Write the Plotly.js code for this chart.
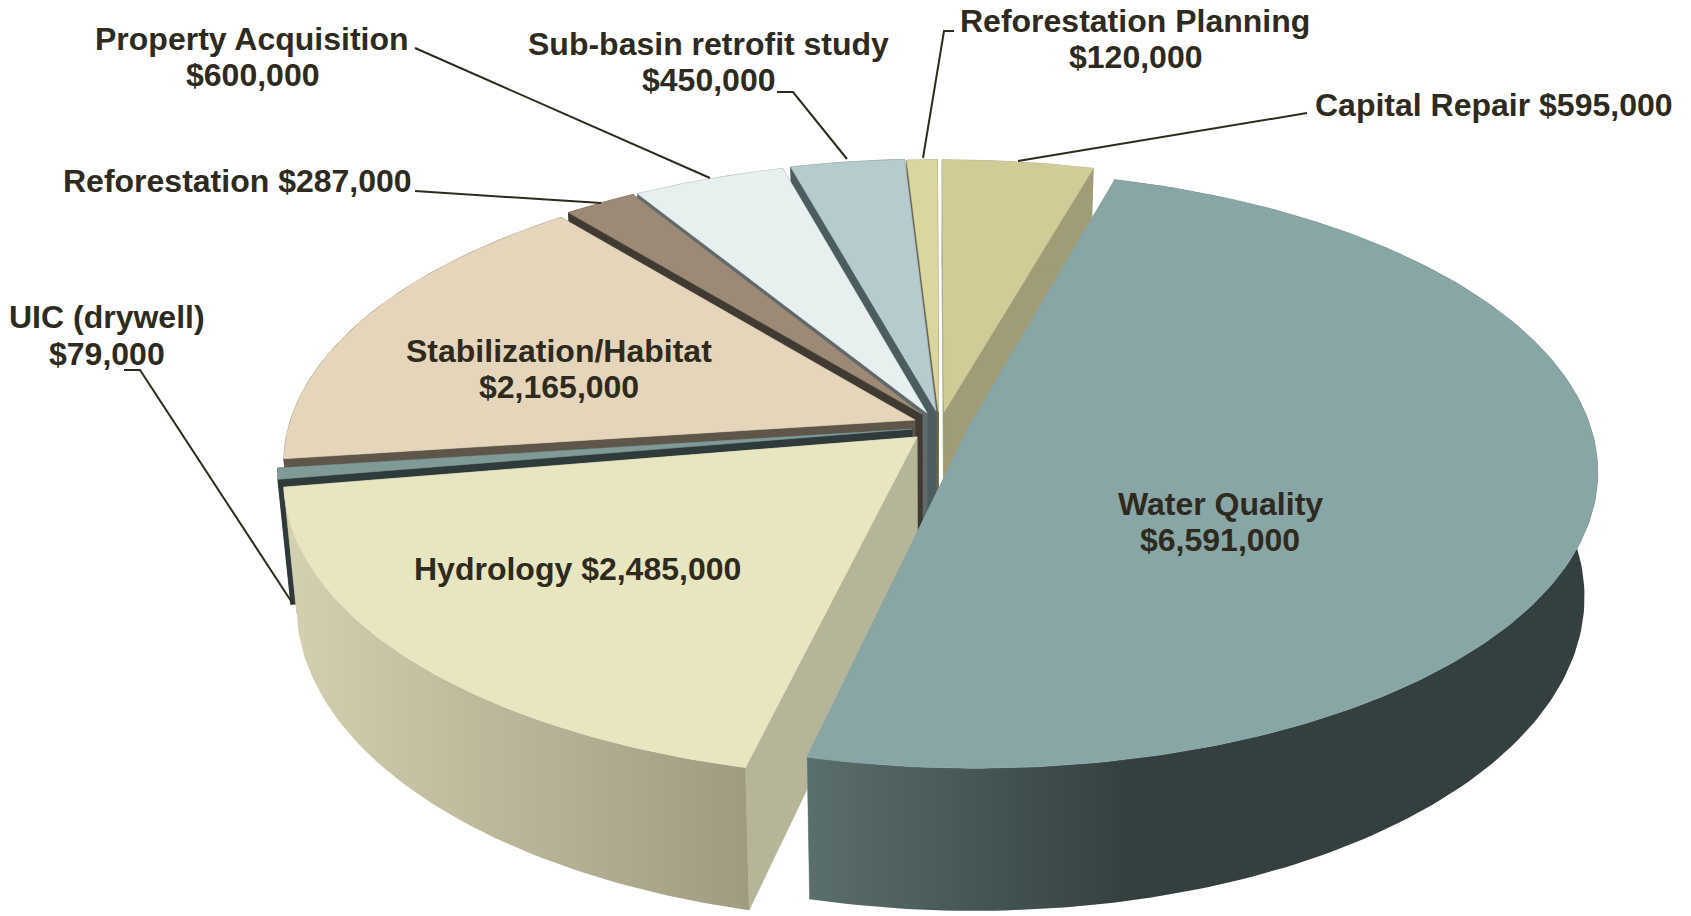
<!DOCTYPE html>
<html>
<head>
<meta charset="utf-8">
<script src="https://cdn.plot.ly/plotly-3.0.1.min.js"></script>
<style>html,body{margin:0;padding:0;background:#fff}#chart{width:1691px;height:916px}</style>
</head>
<body>
<div id="chart"></div>
<script>
// ---- data (clockwise from 12 o'clock) ----
const categories = ["Capital Repair","Water Quality","Hydrology","UIC (drywell)","Stabilization/Habitat","Reforestation","Property Acquisition","Sub-basin retrofit study","Reforestation Planning"];
const amounts = [595000,6591000,2485000,79000,2165000,287000,600000,450000,120000];

// ---- styles ----
const topColors  = ["#d1cb97","#88a6a6","#e8e6c0","#7f9a97","#e5d6bb","#9c8a76","#e7f0ef","#b6cbce","#dbd69f"];
const faceColors = ["#a09c76","#88a6a6","#b6b598","#2f3a3c","#5f5548","#3f3a32","#5f6a6c","#4c5d60","#6a6a4a"];
const rimStops   = {
  1:{stops:[[0,"#5a6e6c"],[1,"#33403f"]],start:810,stop:1130},
  2:{stops:[[0,"#d3d0b0"],[1,"#9e9b80"]],start:290,stop:750}
};
const rimColors  = ["#a09c76","#33403f","#9e9b80","#2f3a3c","#5f5548","#3f3a32","#5f6a6c","#4c5d60","#6a6a4a"];
// ---- explode geometry: where each slice's tip lands, and paint order (back to front) ----
const tipX = [944,969,917,912,915,922,927,936,938.5];
const tipY = [412,426.5,437,429,420,414,413,411,412];
const radiusX = [1,0.992,0.995,1,1,1,1,1,1];
const radiusY = [1,1,0.99,1,1,1,1,1,1];
const paintOrder = [0,8,7,6,5,4,3,2,1];

// ---- projection of the tilted disc ----
const CX=930, CY=425, R=626, B=292, K=0.144, DEPTH=122, SHRINK=0.98;
const gx=tipX.map(x=>0), gy=tipY.map(y=>{const d=y-CY;return d/(B+K*d);});
tipX.forEach((x,i)=>{gx[i]=(x-CX)*(1-K*gy[i])/R;});
const rad=d=>d*Math.PI/180;
function project(i,deg,rr,low){
  const X=gx[i]+rr*radiusX[i]*Math.sin(rad(deg)), Y=gy[i]-rr*radiusY[i]*Math.cos(rad(deg));
  const f=1/(1-K*Y);
  return [CX+R*X*f*(low?SHRINK:1), CY+B*Y*f+(low?DEPTH*f:0)];
}
function arc(i,a0,a1,low){
  const n=Math.max(2,Math.ceil(Math.abs(a1-a0)));
  const pts=[];
  for(let j=0;j<=n;j++) pts.push(project(i,a0+(a1-a0)*j/n,1,low));
  return pts;
}
function poly(pts,color,name,extra){
  const xs=pts.map(p=>p[0]), ys=pts.map(p=>p[1]);
  xs.push(xs[0]); ys.push(ys[0]);
  return Object.assign({type:"scatter",mode:"lines",x:xs,y:ys,fill:"toself",fillcolor:color,
    line:{width:0.6,color:color},name:name,hoverinfo:"name",showlegend:false},extra||{});
}

const total=amounts.reduce((a,b)=>a+b,0);
let cum=0;
const spans=amounts.map(v=>{const s=[cum,cum+v/total*360];cum=s[1];return s;});

const traces=[];
paintOrder.forEach(i=>{
  const name=categories[i];
  const [a0,a1]=spans[i];
  // cut faces
  [a0,a1].forEach(a=>{
    traces.push(poly([project(i,a,0,false),project(i,a,1,false),project(i,a,1,true),project(i,a,0,true)],faceColors[i],name));
  });
  // outer rim
  const rimPts=arc(i,a0,a1,false).concat(arc(i,a1,a0,true));
  if(rimStops[i]){
    traces.push(poly(rimPts,rimColors[i],name,{line:{width:0},fillgradient:{type:"horizontal",colorscale:rimStops[i].stops,start:rimStops[i].start,stop:rimStops[i].stop}}));
  } else {
    traces.push(poly(rimPts,rimColors[i],name));
  }
  // top
  traces.push(poly([project(i,a0,0,false)].concat(arc(i,a0,a1,false)),topColors[i],name));
});

// ---- labels ----
const labelLines=[
  ["Water Quality",1220,504],["$6,591,000",1220,540],
  ["Hydrology $2,485,000",577,569],
  ["Stabilization/Habitat",559,351],["$2,165,000",559,387],
  ["UIC (drywell)",107,317],["$79,000",107,354],
  ["Reforestation $287,000",237,181],
  ["Property Acquisition",252,39],["$600,000",252,75],
  ["Sub-basin retrofit study",708,44],["$450,000",708,80],
  ["Reforestation Planning",1135,21],["$120,000",1135,57],
  ["Capital Repair $595,000",1494,105]
];
const leaders=[
  [[415,48],[710,178]],
  [[415,191],[601,203]],
  [[124,370],[140,370],[293,604]],
  [[777,92],[793,92],[847,159]],
  [[954,31],[944,31],[923,158]],
  [[1307,113],[1018,161]]
];
leaders.forEach(l=>traces.push({type:"scatter",mode:"lines",x:l.map(p=>p[0]),y:l.map(p=>p[1]),
  line:{color:"#2e2a1e",width:2},hoverinfo:"skip",showlegend:false}));

const layout={
  width:1691,height:916,margin:{l:0,r:0,t:0,b:0},paper_bgcolor:"#fff",plot_bgcolor:"#fff",showlegend:false,
  xaxis:{range:[0,1691],visible:false,fixedrange:true},
  yaxis:{range:[916,0],visible:false,fixedrange:true},
  annotations:labelLines.map(l=>({text:l[0],x:l[1],y:l[2],xref:"x",yref:"y",showarrow:false,xanchor:"center",yanchor:"middle",
    font:{family:"Liberation Sans, Arial, sans-serif",size:32,color:"#2e2a1e",weight:700}}))
};
Plotly.newPlot("chart",traces,layout,{displayModeBar:false,staticPlot:true});
</script>
</body>
</html>
